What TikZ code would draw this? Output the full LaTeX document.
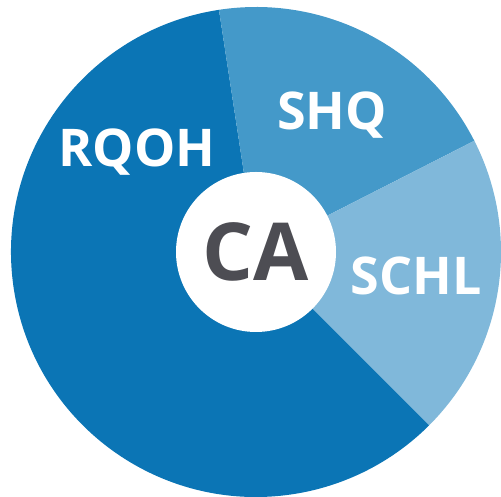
\documentclass[tikz,border=0pt]{standalone}
\usepackage{fontspec}
\setmainfont{Open Sans}
\definecolor{rqoh}{RGB}{11,117,181}
\definecolor{shq}{RGB}{68,153,201}
\definecolor{schl}{RGB}{128,184,218}
\definecolor{cagray}{RGB}{77,77,83}

\begin{document}
\begin{tikzpicture}[x=1pt, y=1pt,
    lab/.style = {text=white, anchor=base, font=\bfseries\fontsize{52}{52}\selectfont},
    hub/.style = {circle, fill=white, minimum size=160pt, inner sep=0pt, text=cagray, font=\bfseries\fontsize{80}{80}\selectfont}]
  \useasboundingbox (0,0) rectangle (501,497);
  \coordinate (o) at (256,245);
  % wedges
  \fill[rqoh] (o) -- ++(98.7:245pt) arc[start angle=98.7, end angle=315, radius=245pt] -- cycle;
  \fill[shq] (o) -- ++(27:245pt) arc[start angle=27, end angle=98.7, radius=245pt] -- cycle;
  \fill[schl] (o) -- ++(-45:245pt) arc[start angle=-45, end angle=27, radius=245pt] -- cycle;
  % labels
  \node[hub] (ca) at (o) {CA};
  \node[lab] (rq) at (137,330) {RQOH};
  \node[lab] (sh) at (332,367) {SHQ};
  \node[lab] (sc) at (416,202) {SCHL};
\end{tikzpicture}
\end{document}
